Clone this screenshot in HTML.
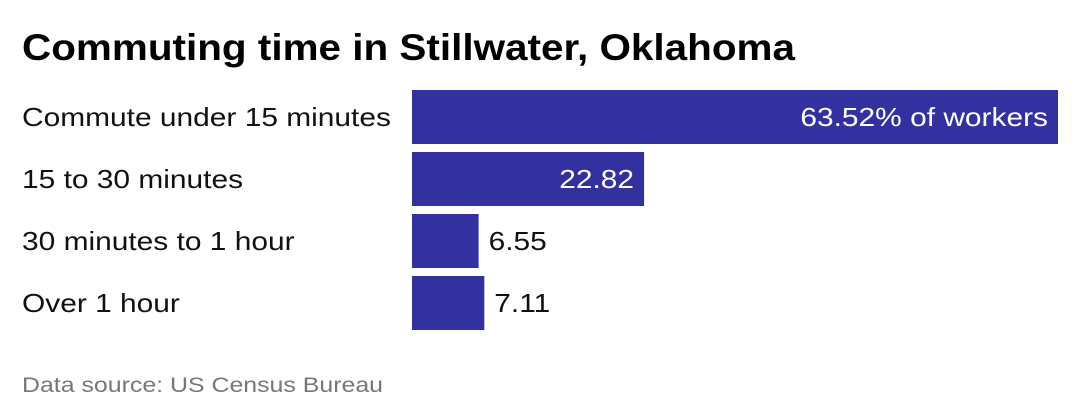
<!DOCTYPE html>
<html><head><meta charset="utf-8"><style>
body{margin:0;width:1080px;height:420px;background:#fff;font-family:"Liberation Sans",sans-serif;overflow:hidden;position:relative}
</style></head><body>
<svg id="chart" width="1080" height="420" style="position:absolute;left:0;top:0">
<text id="title" x="22" y="60" font-size="37" font-weight="bold" fill="#000">Commuting time in Stillwater, Oklahoma</text>
<text id="source" x="22" y="392" font-size="21" fill="#777">Data source: US Census Bureau</text>
</svg>
<script>
const categories=["Commute under 15 minutes","15 to 30 minutes","30 minutes to 1 hour","Over 1 hour"];
const values=[63.52,22.82,6.55,7.11];
const valueLabels=["63.52% of workers","22.82","6.55","7.11"];
const NS="http://www.w3.org/2000/svg";
const svg=document.getElementById("chart");
const x0=412,x1=1058,maxV=Math.max(...values);
const xs=v=>x0+(x1-x0)*v/maxV;
const y=i=>90+62*i, bh=54;
function widen(t,f){const w=t.getComputedTextLength();t.setAttribute("textLength",w*f);t.setAttribute("lengthAdjust","spacingAndGlyphs");}
widen(document.getElementById("title"),773/document.getElementById("title").getComputedTextLength());
widen(document.getElementById("source"),361/document.getElementById("source").getComputedTextLength());
categories.forEach((c,i)=>{
  const t=document.createElementNS(NS,"text");
  
  
  t.setAttribute("x",22);t.setAttribute("y",y(i)+bh/2+9);
  t.setAttribute("font-size","26");t.setAttribute("fill","#111");
  t.textContent=c;svg.appendChild(t);widen(t,1.15);
  const r=document.createElementNS(NS,"rect");
  
  
  r.setAttribute("x",x0);r.setAttribute("y",y(i));
  r.setAttribute("width",xs(values[i])-x0);r.setAttribute("height",bh);
  r.setAttribute("fill","#3330a0");svg.appendChild(r);
  const v=document.createElementNS(NS,"text");
  
  
  const w=xs(values[i])-x0, inside=w>150;
  v.setAttribute("x",inside?xs(values[i])-10:xs(values[i])+10);
  v.setAttribute("text-anchor",inside?"end":"start");
  v.setAttribute("y",y(i)+bh/2+9);
  v.setAttribute("font-size","26");
  v.setAttribute("fill",inside?"#fff":"#111");
  v.textContent=valueLabels[i];svg.appendChild(v);widen(v,1.15);
});
</script>
</body></html>
